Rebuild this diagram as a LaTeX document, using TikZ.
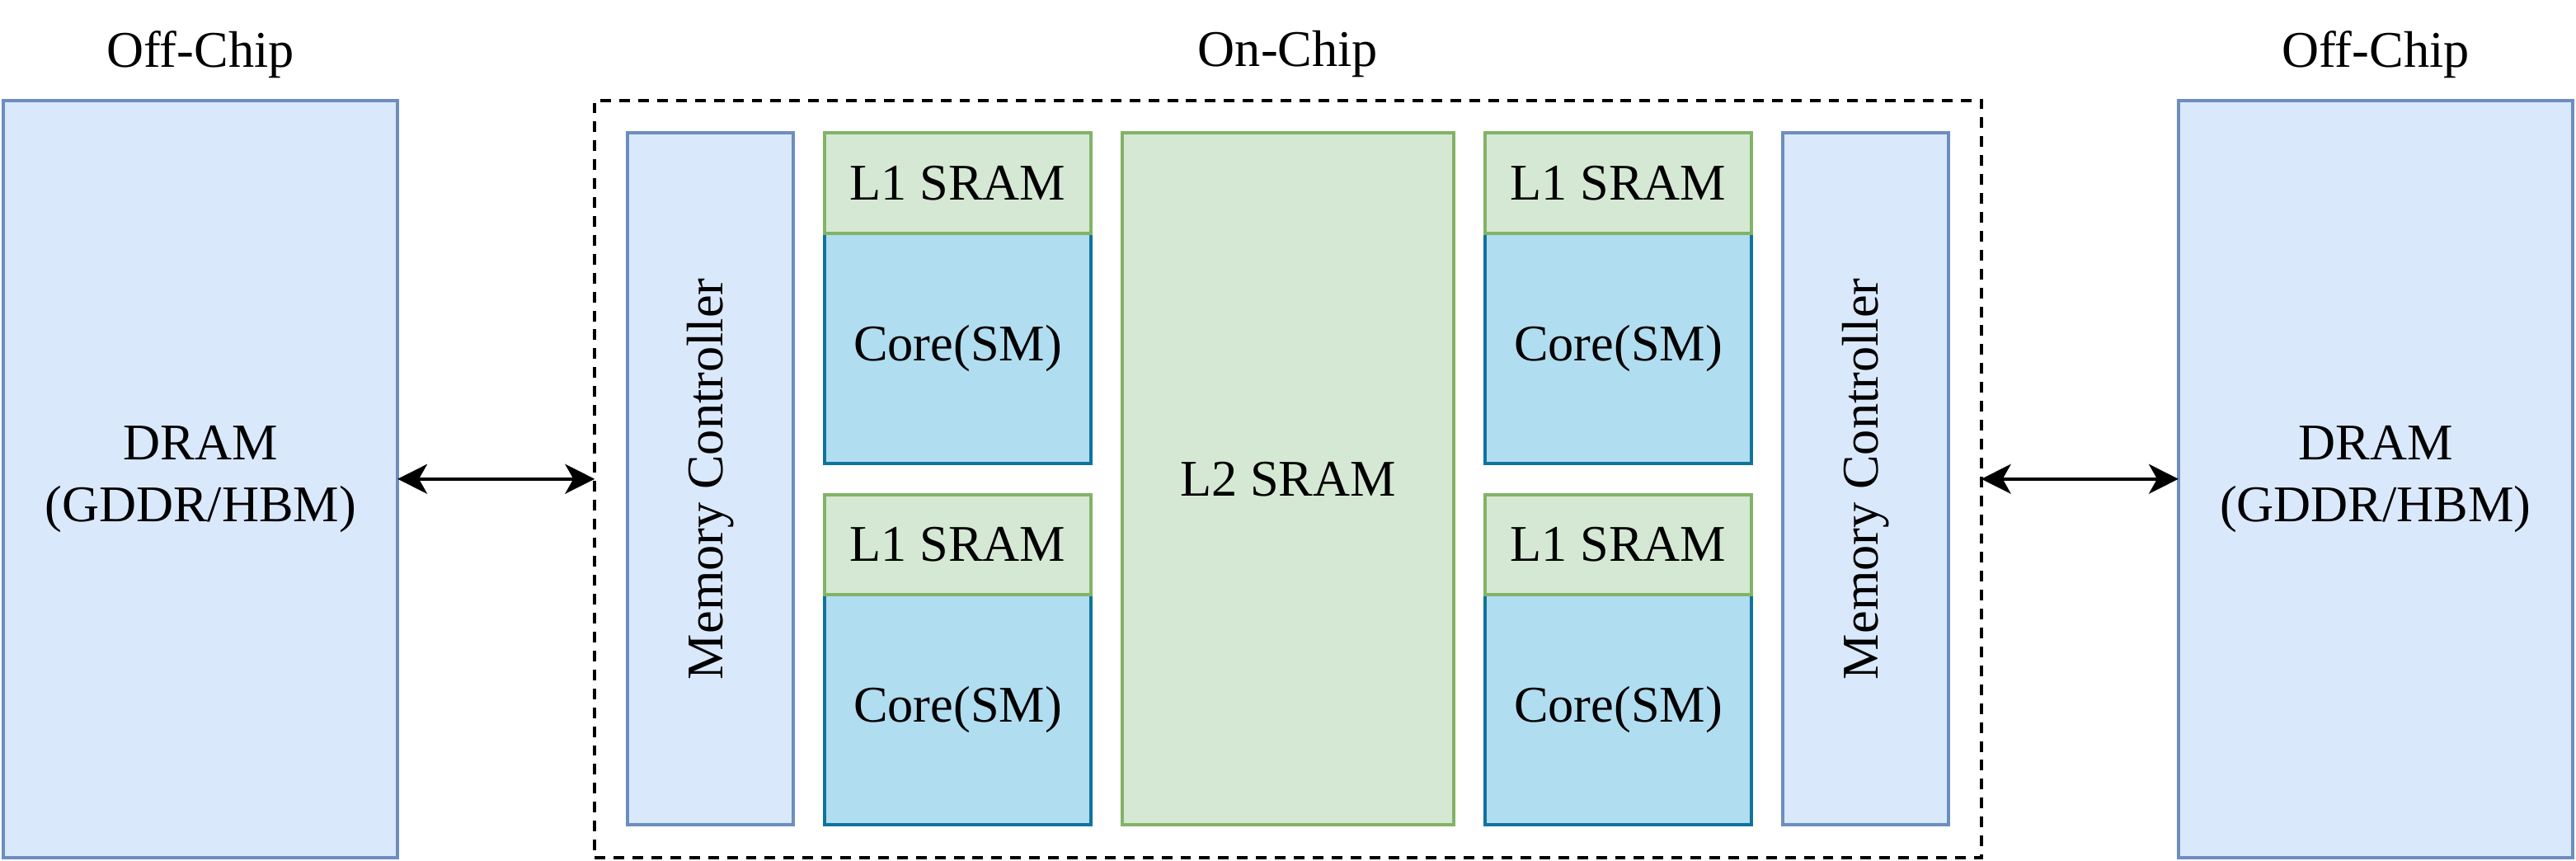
\documentclass[tikz,border=0pt]{standalone}
\usepackage{fontspec}
\setmainfont{Liberation Serif}
\usetikzlibrary{arrows.meta}
\definecolor{bluefill}{HTML}{DAE8FC}
\definecolor{bluedraw}{HTML}{6C8EBF}
\definecolor{greenfill}{HTML}{D5E8D4}
\definecolor{greendraw}{HTML}{82B366}
\definecolor{corefill}{HTML}{B1DDF0}
\definecolor{coredraw}{HTML}{10739E}
\tikzset{
  box/.style={rectangle, line width=2pt, inner sep=0pt, outer sep=0pt, align=center,
    font=\fontsize{31.3}{37.6}\selectfont},
  bluebox/.style={box, fill=bluefill, draw=bluedraw},
  l1box/.style={box, fill=greenfill, draw=greendraw},
  corebox/.style={box, fill=corefill, draw=coredraw},
  chipbox/.style={rectangle, draw=black, line width=2pt, dash pattern=on 6.5pt off 5pt, inner sep=0pt, outer sep=0pt},
  lbl/.style={font=\fontsize{31.3}{37.6}\selectfont, inner sep=0pt},
  biarrow/.style={line width=2pt, {Stealth[length=18pt,width=18pt,inset=5pt]}-{Stealth[length=18pt,width=18pt,inset=5pt]}}
}
\begin{document}
\begin{tikzpicture}[x=1pt,y=-1pt]
\useasboundingbox (0,0) rectangle (1568,524);
% off-chip DRAM
\node[bluebox, minimum width=240pt, minimum height=461pt] (dramL) at (122,291.5) {DRAM\\(GDDR/HBM)};
\node[bluebox, minimum width=240pt, minimum height=461pt] (dramR) at (1446,291.5) {DRAM\\(GDDR/HBM)};
% chip
\node[chipbox, minimum width=844pt, minimum height=461pt] (chip) at (784,291.5) {};
% memory controllers
\node[bluebox, minimum width=101pt, minimum height=421pt] (mcL) at (432.5,291.5) {};
\node[lbl, rotate=90] (mcLt) at (mcL.center) {Memory Controller};
\node[bluebox, minimum width=101pt, minimum height=421pt] (mcR) at (1135.5,291.5) {};
\node[lbl, rotate=90] (mcRt) at (mcR.center) {Memory Controller};
% L2
\node[l1box, minimum width=202pt, minimum height=421pt] (l2) at (784,291.5) {L2 SRAM};
% cores (drawn first) and L1
\node[corebox, minimum width=162pt, minimum height=140pt] (c1) at (583,212) {Core(SM)};
\node[l1box, minimum width=162pt, minimum height=61pt] (a1) at (583,111.5) {L1 SRAM};
\node[corebox, minimum width=162pt, minimum height=140pt] (c2) at (583,432) {Core(SM)};
\node[l1box, minimum width=162pt, minimum height=61pt] (a2) at (583,331.5) {L1 SRAM};
\node[corebox, minimum width=162pt, minimum height=140pt] (c3) at (985,212) {Core(SM)};
\node[l1box, minimum width=162pt, minimum height=61pt] (a3) at (985,111.5) {L1 SRAM};
\node[corebox, minimum width=162pt, minimum height=140pt] (c4) at (985,432) {Core(SM)};
\node[l1box, minimum width=162pt, minimum height=61pt] (a4) at (985,331.5) {L1 SRAM};
% labels
\node[lbl] (offL) at (122,33) {Off-Chip};
\node[lbl] (offR) at (1446,33) {Off-Chip};
\node[lbl] (on) at (784,33) {On-Chip};
% arrows
\draw[biarrow] (dramL.east) -- (chip.west);
\draw[biarrow] (chip.east) -- (dramR.west);
\end{tikzpicture}
\end{document}
